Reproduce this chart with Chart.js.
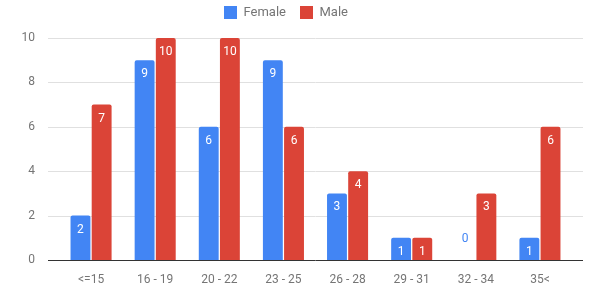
<!DOCTYPE html>
<html>
<head>
<meta charset="utf-8">
<script src="https://cdn.jsdelivr.net/npm/chart.js@4"></script>
<style>
  html, body { margin: 0; padding: 0; background: #fff; }
  #wrap { width: 597px; height: 286px; }
</style>
</head>
<body>
<div id="wrap"><canvas id="myChart"></canvas></div>
<script>
var categories = ['<=15', '16 - 19', '20 - 22', '23 - 25', '26 - 28', '29 - 31', '32 - 34', '35<'];
var female = [2, 9, 6, 9, 3, 1, 0, 1];
var male = [7, 10, 10, 6, 4, 1, 3, 6];
var yTicks = [0, 2, 4, 6, 8, 10];

var BLUE = '#4285f4';
var RED = '#db4437';

// gridlines a bit wider than the bars area, like google sheets
var gridPlugin = {
  id: 'sheetGrid',
  beforeDatasetsDraw: function(chart) {
    var ctx = chart.ctx;
    var y = chart.scales.y;
    ctx.save();
    yTicks.forEach(function(t) {
      var py = Math.round(y.getPixelForValue(t)) + 0.5;
      ctx.beginPath();
      ctx.strokeStyle = t === 0 ? '#333333' : '#e0e0e0';
      ctx.lineWidth = 1;
      ctx.moveTo(48, py);
      ctx.lineTo(583, py);
      ctx.stroke();
    });
    ctx.restore();
  }
};

// value labels at top of bars
var labelPlugin = {
  id: 'barLabels',
  afterDatasetsDraw: function(chart) {
    var ctx = chart.ctx;
    var y = chart.scales.y;
    ctx.save();
    ctx.font = '12px Roboto';
    ctx.textAlign = 'center';
    ctx.textBaseline = 'middle';
    chart.data.datasets.forEach(function(ds, di) {
      var meta = chart.getDatasetMeta(di);
      meta.data.forEach(function(bar, i) {
        var v = ds.data[i];
        if (v === 0) {
          ctx.fillStyle = ds.backgroundColor;
          ctx.fillText(String(v), bar.x, y.getPixelForValue(0) - 21);
        } else {
          ctx.fillStyle = '#ffffff';
          ctx.fillText(String(v), bar.x, bar.y + 14);
        }
      });
    });
    ctx.restore();
  }
};

// extra space under the legend
var legendGap = {
  id: 'legendGap',
  beforeInit: function(chart) {
    var fit = chart.legend.fit;
    chart.legend.fit = function() {
      fit.bind(chart.legend)();
      this.height += 9;
    };
  }
};

var ctx = document.getElementById('myChart').getContext('2d');
var barChart = new Chart(ctx, {
  type: 'bar',
  data: {
    labels: categories,
    datasets: [
      {
        label: 'Female',
        data: female,
        backgroundColor: BLUE,
        borderRadius: {topLeft: 2, topRight: 2},
        borderSkipped: 'start',
        categoryPercentage: 0.66,
        barPercentage: 0.94
      },
      {
        label: 'Male',
        data: male,
        backgroundColor: RED,
        borderRadius: {topLeft: 2, topRight: 2},
        borderSkipped: 'start',
        categoryPercentage: 0.66,
        barPercentage: 0.94
      }
    ]
  },
  options: {
    responsive: true,
    maintainAspectRatio: false,
    animation: false,
    layout: { padding: { left: 0, right: 25, top: -8, bottom: 0 } },
    plugins: {
      tooltip: { enabled: false },
      legend: {
        position: 'top',
        labels: {
          boxWidth: 13,
          boxHeight: 13,
          padding: 14,
          color: '#757575',
          font: { family: 'Roboto', size: 13 }
        }
      }
    },
    scales: {
      x: {
        afterFit: function(scale) { scale.height = 26; },
        grid: { display: false },
        border: { display: false },
        ticks: { color: '#757575', font: { family: 'Roboto', size: 12 }, padding: 5 }
      },
      y: {
        min: 0,
        max: 10,
        afterFit: function(scale) { scale.width = 59; },
        grid: { display: false },
        border: { display: false },
        ticks: {
          stepSize: 2,
          padding: 16,
          color: '#757575',
          font: { family: 'Roboto', size: 12 }
        }
      }
    }
  },
  plugins: [gridPlugin, labelPlugin, legendGap]
});
</script>
</body>
</html>
